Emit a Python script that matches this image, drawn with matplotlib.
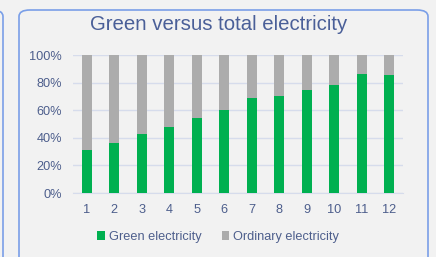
import matplotlib.pyplot as plt
from matplotlib.patches import FancyBboxPatch
from matplotlib.ticker import PercentFormatter
import numpy as np

months = [1, 2, 3, 4, 5, 6, 7, 8, 9, 10, 11, 12]
green = [31, 36.5, 43, 47.5, 54.5, 60.5, 69, 70, 74.5, 78, 86, 85.5]
ordinary = [100 - g for g in green]

plt.rcParams['font.family'] = ['Liberation Sans', 'DejaVu Sans']
txt = '#4d5e8c'

fig = plt.figure(figsize=(4.36, 2.57), dpi=100)
fig.patch.set_facecolor('#f2f2f2')

# panel borders (main panel + edge of neighbouring one)
fig.patches.append(FancyBboxPatch((19/436, -0.2), 409/436, 1.2 - 10/257,
                                  boxstyle='round,pad=0,rounding_size=0.025',
                                  transform=fig.transFigure, fc='none',
                                  ec='#7a9fe8', lw=1.2))
fig.patches.append(FancyBboxPatch((-0.2, -0.2), 0.2 + 3/436, 1.2 - 10/257,
                                  boxstyle='round,pad=0,rounding_size=0.025',
                                  transform=fig.transFigure, fc='none',
                                  ec='#7a9fe8', lw=1.2))

ax = fig.add_axes([73/436, 1 - 193/257, 330/436, 138/257])
ax.set_facecolor('none')
x = np.arange(len(months))
w = 0.38
ax.bar(x, green, w, color='#00b050', label='Green electricity', zorder=3)
ax.bar(x, ordinary, w, bottom=green, color='#acacac', label='Ordinary electricity', zorder=3)

ax.set_xlim(-0.5, len(months) - 0.5)
ax.set_ylim(0, 100)
ax.set_yticks(range(0, 101, 20))
ax.yaxis.set_major_formatter(PercentFormatter(decimals=0))
ax.set_xticks(x)
ax.set_xticklabels([str(m) for m in months])
ax.grid(axis='y', color='#d6dcec', lw=1, zorder=0)
for s in ['top', 'right', 'left']:
    ax.spines[s].set_visible(False)
ax.spines['bottom'].set_color('#d6dcec')
ax.tick_params(length=0, colors=txt, labelsize=9.2)
ax.tick_params(axis='x', pad=8)
ax.tick_params(axis='y', pad=8)

fig.text(219/436, 1 - 25/257, 'Green versus total electricity', ha='center',
         va='center', fontsize=14.7, color='#4a5f98')

ax.legend(loc='center', bbox_to_anchor=(0.5, 1 - 237/257), bbox_transform=fig.transFigure,
          ncol=2, frameon=False, fontsize=9.2, labelcolor=txt, handlelength=0.6,
          handleheight=0.6, handletextpad=0.3, columnspacing=1.6)

fig.savefig('out.png', dpi=100, facecolor=fig.get_facecolor())
